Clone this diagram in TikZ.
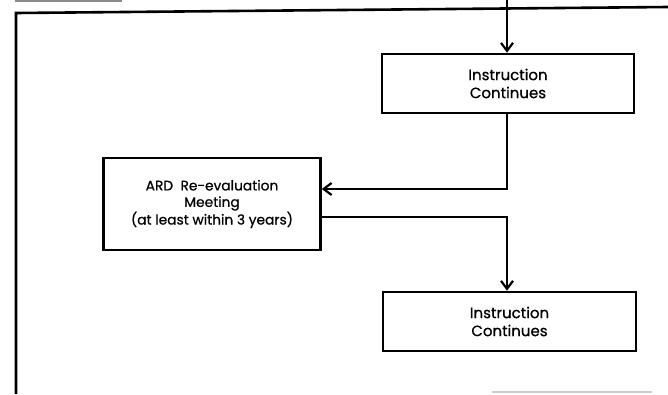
\documentclass[tikz,border=0pt]{standalone}
\usepackage{fontspec}
\setmainfont{Poppins}
\newfontfamily\boxfont{Poppins}[FakeBold=0.7]
\usepackage{tikz}
\usetikzlibrary{positioning,arrows.meta}

\begin{document}
\begin{tikzpicture}[
            x=1pt, y=-1pt,
            line width=2.6pt,
            box/.style={draw, rectangle, align=center, inner sep=0pt,
                font=\boxfont\fontsize{15}{18}\selectfont},
            arr/.style={-{Straight Barb[length=8pt,width=12pt,line width=2.2pt]}}
        ]
            \useasboundingbox (0,0) rectangle (668,394);

            % Boxes
            \node[box, minimum width=252pt, minimum height=59pt] (cont1) at (508,83.5)
                {Instruction\\Continues};
            \node[box, minimum width=217pt, minimum height=92pt,
                font=\boxfont\fontsize{13.8}{16.5}\selectfont] (ard) at (212,204)
                {ARD\ \ Re-evaluation\\Meeting\\(at least within 3 years)};
            \node[box, minimum width=253pt, minimum height=59pt] (cont2) at (509.5,321.5)
                {Instruction\\Continues};

            % Frame of the page
            \draw[line width=1.4pt, black!45] (15,1) -- (122,1);
            \draw (16,394) -- (16,13) -- (668,7);
            \draw[line width=1.4pt, black!20] (492,392) -- (652,392);

            % Flow
            \coordinate (in) at (507,0);
            \draw[arr] (in) -- (in |- cont1.north);
            \draw[arr] (cont1.south -| in) |- ([yshift=15pt]ard.east);
            \draw[arr] ([yshift=-13pt]ard.east) -| (in |- cont2.north);
        \end{tikzpicture}
\end{document}
